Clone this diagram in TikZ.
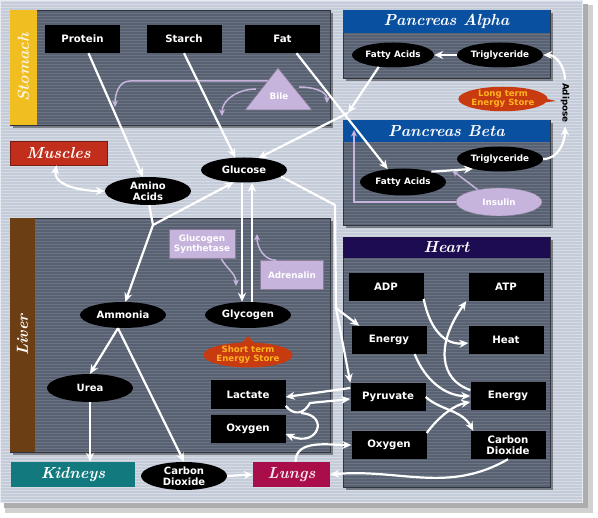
\documentclass[tikz,border=0pt]{standalone}
\usepackage{fontspec}
\setsansfont{DejaVu Sans}
\usepackage{tikz}
\usetikzlibrary{arrows.meta,positioning,patterns,shapes.geometric,shapes.callouts}
\definecolor{bgfill}{RGB}{196,203,217}
\definecolor{panelfill}{RGB}{88,97,114}
\definecolor{lilac}{RGB}{198,180,220}
\definecolor{stomachbar}{RGB}{240,190,32}
\definecolor{liverbar}{RGB}{108,62,20}
\definecolor{musclered}{RGB}{194,46,28}
\definecolor{kidneyteal}{RGB}{18,122,126}
\definecolor{lungred}{RGB}{170,14,74}
\definecolor{pancblue}{RGB}{10,80,160}
\definecolor{heartblue}{RGB}{30,12,82}
\definecolor{storered}{RGB}{200,58,16}
\definecolor{storetext}{RGB}{255,180,30}

\begin{document}
\begin{tikzpicture}[x=1pt, y=-1pt,
    stripes/.style={pattern=horizontal lines, pattern color=white!12!panelfill},
    blk/.style={fill=black, text=white, font=\sffamily\bfseries\fontsize{10.2}{11}\selectfont,
                minimum width=75pt, minimum height=28pt, inner sep=1pt, align=center},
    oval/.style={ellipse, fill=black, text=white, font=\sffamily\bfseries\fontsize{10}{10.6}\selectfont,
                 minimum width=86pt, minimum height=26pt, inner sep=0pt, align=center},
    small/.style={font=\sffamily\bfseries\fontsize{8.8}{9.5}\selectfont},
    lil/.style={fill=lilac, draw=lilac!70!black, text=white, align=center, inner sep=1pt,
                font=\sffamily\bfseries\fontsize{8.8}{9.5}\selectfont},
    organ/.style={text=white, inner sep=1pt, font=\rmfamily\bfseries\itshape\fontsize{16}{17}\selectfont},
    store/.style={ellipse callout, fill=storered, text=storetext, align=center, inner sep=0pt,
                  font=\sffamily\bfseries\fontsize{8.6}{9.2}\selectfont},
    arr/.style={-{Stealth[length=9pt, width=8pt]}, white, line width=2.2pt},
    lilarr/.style={-{Stealth[length=6.5pt, width=6pt]}, lilac, line width=1.5pt}
  ]
  \useasboundingbox (0,0) rectangle (598,518);
  % backdrop
  \fill[white] (0,0) rectangle (598,518);
  \fill[black!18] (5,5) rectangle (593,513);
  \fill[black!32] (4,4) rectangle (588,508);
  \fill[bgfill] (0,0) rectangle (583,503);
  \fill[pattern=horizontal lines, pattern color=white!30!bgfill] (0,0) rectangle (583,503);
  \draw[white!60!bgfill, line width=1pt] (0.5,0.5) rectangle (582.5,502.5);
  % panels
  \foreach \xa/\ya/\xb/\yb in {10/10/330/125, 343/10/550/78, 343/120/550/225,
                               343/237/550/487, 10/218/330/452} {
    \fill[black, opacity=.4] (\xa+3,\ya+3) rectangle (\xb+3,\yb+3);
    \fill[panelfill] (\xa,\ya) rectangle (\xb,\yb);
    \fill[stripes] (\xa,\ya) rectangle (\xb,\yb);
    \draw[panelfill!55!black, line width=.8pt] (\xa,\ya) rectangle (\xb,\yb);
  }
  \fill[stomachbar] (10,10) rectangle (37,125);
  \node[organ, rotate=90, text=white!85!stomachbar] (stomachlbl) at (23.5,67.5) {Stomach};
  \fill[liverbar] (10,218) rectangle (35,452);
  \node[organ, rotate=90] (liverlbl) at (22.5,335) {Liver};
  \fill[pancblue] (343,10) rectangle (550,33);
  \node[organ] (alphalbl) at (446.5,21.5) {Pancreas Alpha};
  \fill[pancblue] (343,120) rectangle (550,142);
  \node[organ] (betalbl) at (446.5,131) {Pancreas Beta};
  \fill[heartblue] (343,237) rectangle (550,258);
  \node[organ] (heartlbl) at (446.5,247.5) {Heart};

  % stomach
  \node[blk] (protein) at (82.5,39) {Protein};
  \node[blk] (starch) at (184,39) {Starch};
  \node[blk] (fat) at (282.5,39) {Fat};
  \fill[lilac] (245,110) -- (278,68) -- (312,110) -- cycle;
  \draw[lilac!65!black, line width=.6pt] (245,110) -- (278,68) -- (312,110) -- cycle;
  \node[lil, fill=none, draw=none] (bile) at (279,96) {Bile};
  \coordinate (bt1) at (268,81);
  \coordinate (bt2) at (256,89);
  \coordinate (bt3) at (299,87);
  \coordinate (bl1) at (115,107);
  \coordinate (bl2) at (222,116);
  \coordinate (bl3) at (327,103);
  \draw[lilarr] (bt1) -- ++(-138,0) to[out=180, in=90] (bl1);
  \draw[lilarr] (bt2) to[out=180, in=90] (bl2);
  \draw[lilarr] (bt3) to[out=0, in=90] (bl3);

  % middle
  \node[organ, fill=musclered, draw=musclered!60!black, minimum width=97pt, minimum height=24pt]
    (muscles) at (58.5,153) {Muscles};
  \node[oval, minimum height=28pt] (amino) at (148,191) {Amino\\Acids};
  \node[oval, minimum height=25pt] (glucose) at (244,170) {Glucose};

  % pancreas
  \node[oval, small, minimum width=82pt, minimum height=25pt] (fattyA) at (393,55) {Fatty Acids};
  \node[oval, small, minimum height=25pt] (trigA) at (500,55) {Triglyceride};
  \node[oval, small, minimum height=27pt] (fattyB) at (403,182) {Fatty Acids};
  \node[oval, small, minimum height=25pt] (trigB) at (500,159) {Triglyceride};
  \node[lil, ellipse, minimum width=86pt, minimum height=28pt, inner sep=0pt] (insulin) at (499,202) {Insulin};
  \node[rotate=-90, font=\sffamily\bfseries\fontsize{8.8}{9.5}\selectfont] (adipose) at (565,103) {Adipose};
  \node[store, minimum width=87pt, minimum height=23pt, callout absolute pointer={(556,101)}]
    (longstore) at (503,99) {Long term\\Energy Store};

  % liver
  \node[lil, minimum width=66pt, minimum height=29pt] (synth) at (202,244) {Glucogen\\Synthetase};
  \node[lil, minimum width=63pt, minimum height=29pt] (adrenalin) at (292,275) {Adrenalin};
  \node[oval] (ammonia) at (123,315) {Ammonia};
  \node[oval] (glycogen) at (248,315) {Glycogen};
  \node[store, minimum width=89pt, minimum height=25pt, callout absolute pointer={(248,336)}]
    (shortstore) at (248,355) {Short term\\Energy Store};
  \node[oval, minimum height=28pt] (urea) at (90,388) {Urea};
  \node[blk, minimum height=29pt] (lactate) at (248,395) {Lactate};
  \node[blk] (oxyL) at (248,429) {Oxygen};

  % bottom row
  \node[organ, fill=kidneyteal, minimum width=124pt, minimum height=25pt] (kidneys) at (73,474.5) {Kidneys};
  \node[oval, minimum height=28pt] (co2L) at (184,476) {Carbon\\Dioxide};
  \node[organ, fill=lungred, text=white!90!lungred, minimum width=77pt, minimum height=25pt]
    (lungs) at (291.5,474.5) {Lungs};

  % heart
  \node[blk] (adp) at (386,287) {ADP};
  \node[blk] (atp) at (506,287) {ATP};
  \node[blk] (energyL) at (389,340) {Energy};
  \node[blk] (heat) at (506,340) {Heat};
  \node[blk] (pyruvate) at (388,397) {Pyruvate};
  \node[blk] (energyR) at (508,396) {Energy};
  \node[blk] (oxyH) at (389,445) {Oxygen};
  \node[blk] (co2H) at (508,445) {Carbon\\Dioxide};

  % junctions
  \coordinate (ja) at (153,225);
  \coordinate (jf) at (348,113);
  \coordinate (jg) at (335,205);
  \coordinate (jh) at (336,308);
  \coordinate (jl) at (310,403);
  \coordinate (jl2) at (301,413);
  \coordinate (ib) at (354,130);
  \coordinate (gs) at (236,286);
  \coordinate (ad) at (257,234);

  % white connectors
  \draw[arr] ([xshift=6pt]protein.south) -- (amino.110);
  \draw[arr] (starch.south) -- (glucose.125);
  \draw[arr] ([xshift=14pt]fat.south) -- (fattyB.140);
  \draw[arr] (fattyA.-140) -- (jf);
  \draw[arr] (jf) -- (glucose.40);
  \draw[arr] (trigA.west) -- (fattyA.east);
  \draw[arr] (adipose.west) to[out=90, in=0] (trigA.east);
  \draw[arr] (trigB.east) to[out=0, in=-90] (adipose.east);
  \draw[arr] (fattyB.20) -- coordinate[pos=.5] (fm) (trigB.-160);
  \draw[arr, {Stealth[length=9pt, width=8pt]}-{Stealth[length=9pt, width=8pt]}]
    ([xshift=-2pt]muscles.south) to[out=-100, in=180] (amino.west);
  \draw[white, line width=2.2pt] (amino.-85) -- (ja);
  \draw[arr] (ja) -- (glucose.-130);
  \draw[arr] (ja) -- (ammonia.80);
  \draw[arr] ([xshift=-2pt]glucose.south) -- ([xshift=-6pt]glycogen.north);
  \draw[arr] ([xshift=4pt]glycogen.north) -- ([xshift=8pt]glucose.south);
  \draw[white, line width=2.2pt, line join=round] (glucose.-10) -- (jg) -- (jh);
  \draw[arr] (jh) -- ([xshift=8pt]energyL.north west);
  \draw[arr] (jh) -- (pyruvate.north west);
  \foreach \a/\b in {ammonia/urea, ammonia/co2L}
    \draw[arr] ([xshift=-5pt]\a.south) -- (\b.north);
  \draw[arr] (urea.south) -- (urea.south |- kidneys.north);
  \draw[arr] (co2L.east) -- (lungs.west);
  \draw[arr] ([xshift=4pt]lungs.north) to[out=90, in=180] (oxyH.west);
  \draw[arr] (co2H.south) to[out=-150, in=5] (lungs.east);
  \draw[arr] ([yshift=9pt]pyruvate.west) -- ([yshift=-2pt]lactate.east);
  \draw[arr] ([yshift=-11pt]lactate.east) .. controls (294,416) and (304,414) .. (jl)
    -- ([yshift=-2pt]pyruvate.west);
  \draw[arr] (jl2) .. controls (330,415) and (318,448) .. ([yshift=-5pt]oxyL.east);
  % heart reactions
  \draw[arr] ([yshift=-12pt]adp.east) .. controls (430,330) and (445,345) .. ([yshift=-3pt]heat.west);
  \draw[arr] ([yshift=6pt]energyR.west) .. controls (440,380) and (435,345) .. ([xshift=-2pt]atp.south west);
  \draw[arr] ([xshift=-12pt]energyL.south east) .. controls (425,380) and (445,396) .. (energyR.west);
  \draw[arr] (pyruvate.east) .. controls (440,410) and (462,410) .. ([xshift=3pt]co2H.north west);
  \draw[arr] ([yshift=12pt]oxyH.east) .. controls (440,415) and (455,405) .. ([yshift=-6pt]energyR.west);

  % lilac regulators
  \draw[lilarr] (insulin.150) -- (fm);
  \draw[lilarr] (insulin.west) -| (ib);
  \draw[lilarr] ([xshift=-14pt]synth.south east) to[out=-60, in=90] (gs);
  \draw[lilarr] ([xshift=16pt]adrenalin.north west) to[out=180, in=-90] (ad);
\end{tikzpicture}
\end{document}
